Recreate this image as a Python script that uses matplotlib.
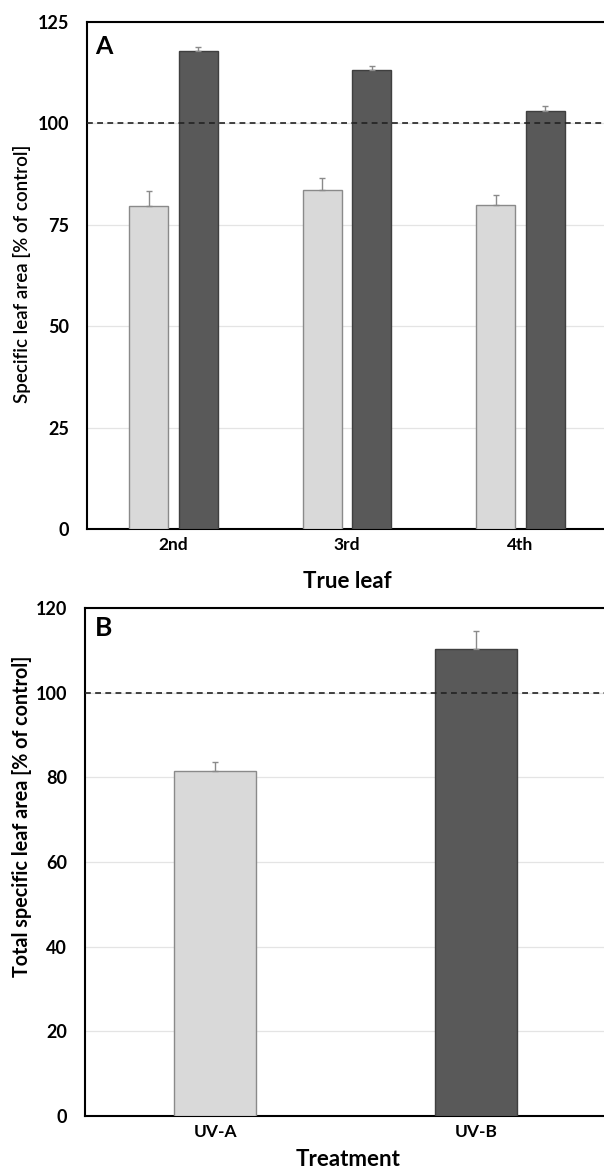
import matplotlib
matplotlib.use("Agg")
import matplotlib.pyplot as plt
import numpy as np

plt.rcParams['font.family'] = ['Lato', 'DejaVu Sans']

# ---- data ----
leaves = ["2nd", "3rd", "4th"]
uva_leaf = [79.6, 83.5, 79.8]
uva_leaf_err = [3.7, 3.1, 2.5]
uvb_leaf = [117.9, 113.2, 103.1]
uvb_leaf_err = [1.0, 1.0, 1.2]

treatments = ["UV-A", "UV-B"]
total_vals = [81.6, 110.3]
total_err = [2.0, 4.3]

yticks_a = [0, 25, 50, 75, 100, 125]
yticks_b = [0, 20, 40, 60, 80, 100, 120]
control_level = 100

LIGHT = "#d9d9d9"
LIGHT_EDGE = "#8a8a8a"
DARK = "#595959"
DARK_EDGE = "#3f3f3f"
ERR = "#8a8a8a"

W, H = 604, 1171
fig = plt.figure(figsize=(W / 100, H / 100), dpi=100)

def px_axes(left, top, right, bottom):
    return fig.add_axes([left / W, 1 - bottom / H, (right - left) / W, (bottom - top) / H])

axA = px_axes(87, 22, 607, 529)
axB = px_axes(85, 608, 606, 1116)

def style(ax, yticks):
    ax.set_ylim(yticks[0], yticks[-1])
    ax.set_yticks(yticks)
    for s in ax.spines.values():
        s.set_linewidth(1.5)
        s.set_color("black")
    ax.spines['right'].set_visible(False)
    ax.tick_params(axis='y', length=0, pad=13, labelsize=13)
    ax.tick_params(axis='x', length=0, pad=6, labelsize=12.5)
    for lab in ax.get_xticklabels() + ax.get_yticklabels():
        lab.set_fontweight('bold')
    ax.yaxis.grid(True, color="#e4e4e4", linewidth=0.9, zorder=0)
    ax.set_axisbelow(True)
    ax.axhline(control_level, color="#222222", linewidth=1.2, linestyle=(0, (3.5, 2.6)), zorder=4)

# ---- panel A ----
x = np.arange(len(leaves))
bw = 0.225
off = 0.143
axA.bar(x - off, uva_leaf, bw, color=LIGHT, edgecolor=LIGHT_EDGE, linewidth=1.0, zorder=3,
        yerr=[np.zeros(3), uva_leaf_err], error_kw=dict(ecolor=ERR, elinewidth=1.0, capsize=2, capthick=1.0))
axA.bar(x + off, uvb_leaf, bw, color=DARK, edgecolor=DARK_EDGE, linewidth=1.0, zorder=3,
        yerr=[np.zeros(3), uvb_leaf_err], error_kw=dict(ecolor=ERR, elinewidth=1.0, capsize=2, capthick=1.0))
axA.set_xlim(-0.5, len(leaves) - 0.5)
axA.set_xticks(x)
axA.set_xticklabels(leaves)
style(axA, yticks_a)
axA.text(0.016, 0.975, "A", transform=axA.transAxes, ha='left', va='top',
         fontsize=18, fontweight='bold')

# ---- panel B ----
xb = np.arange(len(treatments))
bwb = 0.313
colors_b = [LIGHT, DARK]
edges_b = [LIGHT_EDGE, DARK_EDGE]
axB.bar(xb, total_vals, bwb, color=colors_b, edgecolor=edges_b, linewidth=1.0, zorder=3,
        yerr=[np.zeros(2), total_err], error_kw=dict(ecolor=ERR, elinewidth=1.0, capsize=2, capthick=1.0))
axB.set_xlim(-0.5, len(treatments) - 0.5)
axB.set_xticks(xb)
axB.set_xticklabels(treatments)
style(axB, yticks_b)
axB.text(0.018, 0.985, "B", transform=axB.transAxes, ha='left', va='top',
         fontsize=19, fontweight='bold')

# ---- axis titles ----
fig.text(22 / W, 1 - 274 / H, "Specific leaf area [% of control]", rotation=90,
         ha='center', va='center', fontsize=13.5, fontweight='semibold')
fig.text(22 / W, 1 - 816 / H, "Total specific leaf area [% of control]", rotation=90,
         ha='center', va='center', fontsize=14.2, fontweight='bold')
fig.text(347 / W, 1 - 588 / H, "True leaf", ha='center', va='baseline',
         fontsize=16, fontweight='bold')
fig.text(348 / W, 1 - 1166 / H, "Treatment", ha='center', va='baseline',
         fontsize=16, fontweight='bold')

fig.savefig("out.png", dpi=100)
